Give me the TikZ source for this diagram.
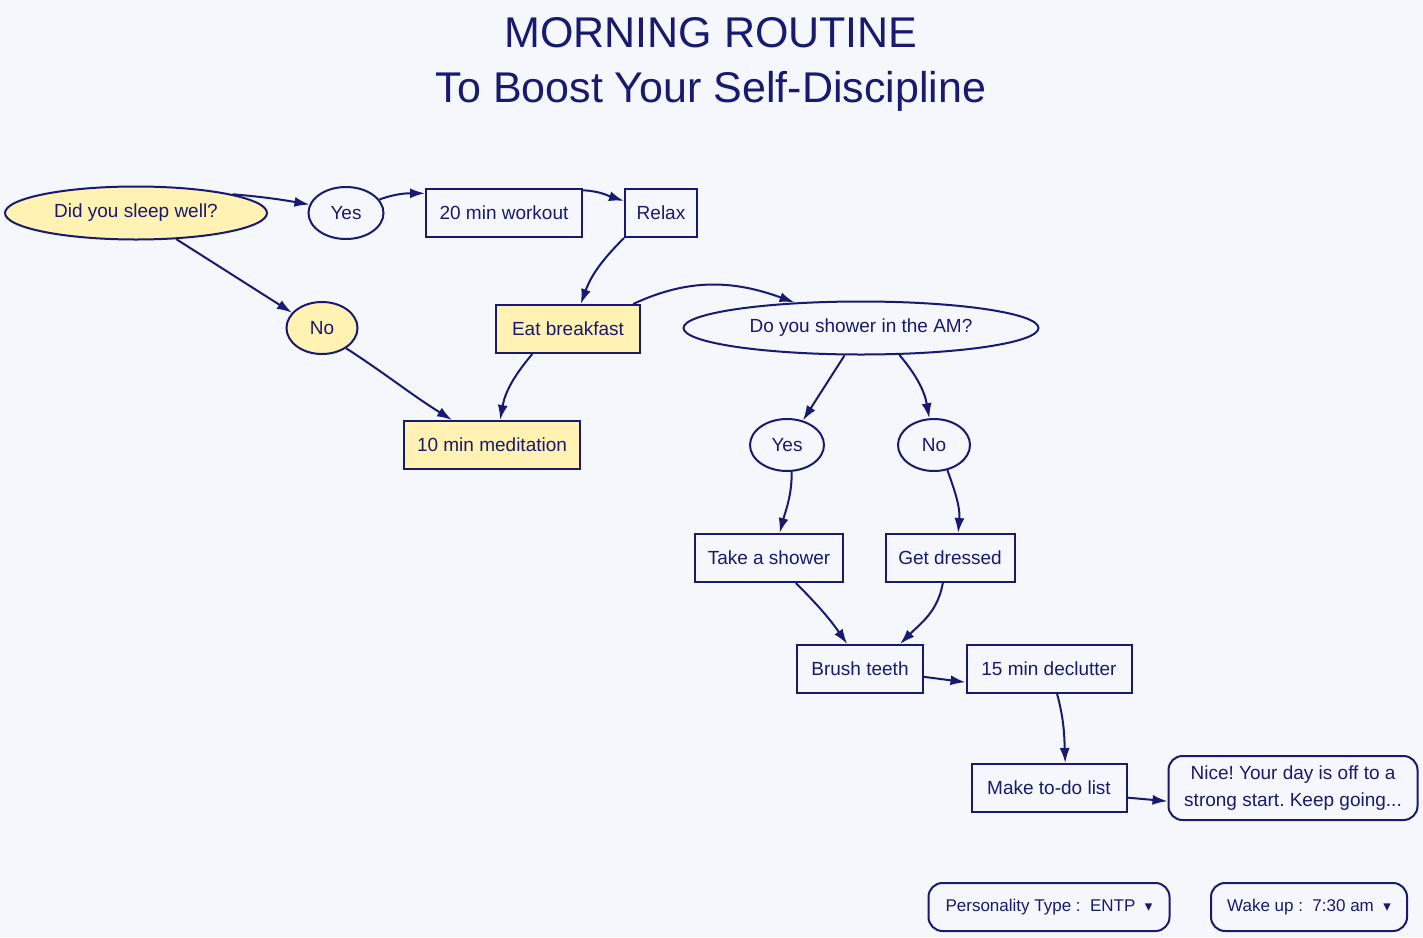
\documentclass[tikz,border=0pt]{standalone}
\usepackage{fontspec}
\setmainfont{Liberation Sans}
\newfontfamily\symfont{DejaVu Sans}
\usepackage{xcolor}
\usetikzlibrary{positioning,arrows.meta,shapes.geometric}
\definecolor{pagebg}{HTML}{F4F7FC}
\definecolor{ink}{HTML}{191970}
\definecolor{cream}{HTML}{FFF2B3}
\frenchspacing

\begin{document}
\begin{tikzpicture}[
    x=1pt, y=1pt,
    every node/.style={text=ink, font=\fontsize{19}{23}\selectfont},
    choice/.style={ellipse, draw=ink, line width=2pt, fill=pagebg, inner sep=0pt, minimum width=75pt, minimum height=52pt},
    decision/.style={choice, fill=cream},
    stepbox/.style={rectangle, draw=ink, line width=2pt, fill=pagebg, inner xsep=0pt, minimum height=48pt},
    habit/.style={stepbox, fill=cream},
    note/.style={stepbox, rounded corners=14pt, align=center, minimum height=64pt, font=\fontsize{19}{27}\selectfont},
    picker/.style={stepbox, rounded corners=14pt, font=\fontsize{17}{20}\selectfont},
    link/.style={draw=ink, line width=2pt, -{Latex[length=15pt,width=10pt]}},
]
\fill[pagebg] (0,0) rectangle (1423,-937);

% title
\node[font=\fontsize{43}{48}\selectfont] (title1) at (711,-33) {MORNING ROUTINE};
\node[font=\fontsize{43}{48}\selectfont] (title2) at (711,-91) {To Boost Your Self-Discipline};

% first question
\node[decision, minimum width=262pt, minimum height=53pt] (sleep) at (136,-213) {Did you sleep well?};
\node[choice] (yes1) at (346,-213) {Yes};
\node[decision, minimum width=71pt] (no1) at (322,-328) {No};
\node[stepbox, minimum width=156pt] (workout) at (504,-213) {20 min workout};
\node[stepbox, minimum width=72pt] (relax) at (661,-213) {Relax};
\node[habit, minimum width=144pt] (breakfast) at (568,-329) {Eat breakfast};
\node[habit, minimum width=176pt] (meditate) at (492,-445) {10 min meditation};

% second question
\node[choice, minimum width=355pt, minimum height=53pt] (showerq) at (861,-328) {Do you shower in the AM?};
\node[choice, minimum width=74pt] (yes2) at (787,-445) {Yes};
\node[choice, minimum width=72pt] (no2) at (934,-445) {No};
\node[stepbox, minimum width=148pt] (shower) at (769,-558) {Take a shower};
\node[stepbox, minimum width=129pt] (dressed) at (950,-558) {Get dressed};
\node[stepbox, minimum width=126pt] (brush) at (860,-669) {Brush teeth};
\node[stepbox, minimum width=165pt] (declutter) at (1049,-669) {15 min declutter};
\node[stepbox, minimum width=155pt] (todo) at (1049,-788) {Make to-do list};
\node[note, minimum width=249pt] (nice) at (1293,-788) {Nice! Your day is off to a\\strong start. Keep going...};

% pickers
\node[picker, minimum width=241pt] (ptype) at (1049,-907) {Personality Type :\ \ ENTP\ \ {\symfont\fontsize{15}{16}\selectfont ▾}};
\node[picker, minimum width=196pt] (wake) at (1309,-907) {Wake up :\ \ 7:30 am\ \ {\symfont\fontsize{15}{16}\selectfont ▾}};

% connectors
\draw[link] (sleep.11) to[out=-5, in=170] (yes1.167);
\draw[link] (yes1.22) to[out=20, in=180] (workout.166);
\draw[link] (workout.16) to[out=-2, in=162] (relax.162);
\draw[link] (relax.south west) to[out=-135, in=70] (breakfast.63);
\draw[link] (sleep.-33) -- (no1.153);
\draw[link] (breakfast.21) to[out=25, in=160] (showerq.159);
\draw[link] (breakfast.215) to[out=-130, in=80] (meditate.72);
\draw[link] (no1.-40) to[out=-33, in=148] (meditate.148);
\draw[link] (showerq.-121) -- (yes2.57);
\draw[link] (showerq.-35) to[out=-50, in=100] (no2.100);
\draw[link] (yes2.-80) to[out=-90, in=75] (shower.67);
\draw[link] (no2.-62) to[out=-70, in=85] (dressed.72);
\draw[link] (shower.-43) to[out=-45, in=125] (brush.117);
\draw[link] (dressed.-106) to[out=-100, in=45] (brush.32);
\draw[link] (brush.-7) -- (declutter.-171);
\draw[link] (declutter.-72) to[out=-75, in=92] (todo.57);
\draw[link] (todo.-7) -- (nice.-174);
\end{tikzpicture}
\end{document}
